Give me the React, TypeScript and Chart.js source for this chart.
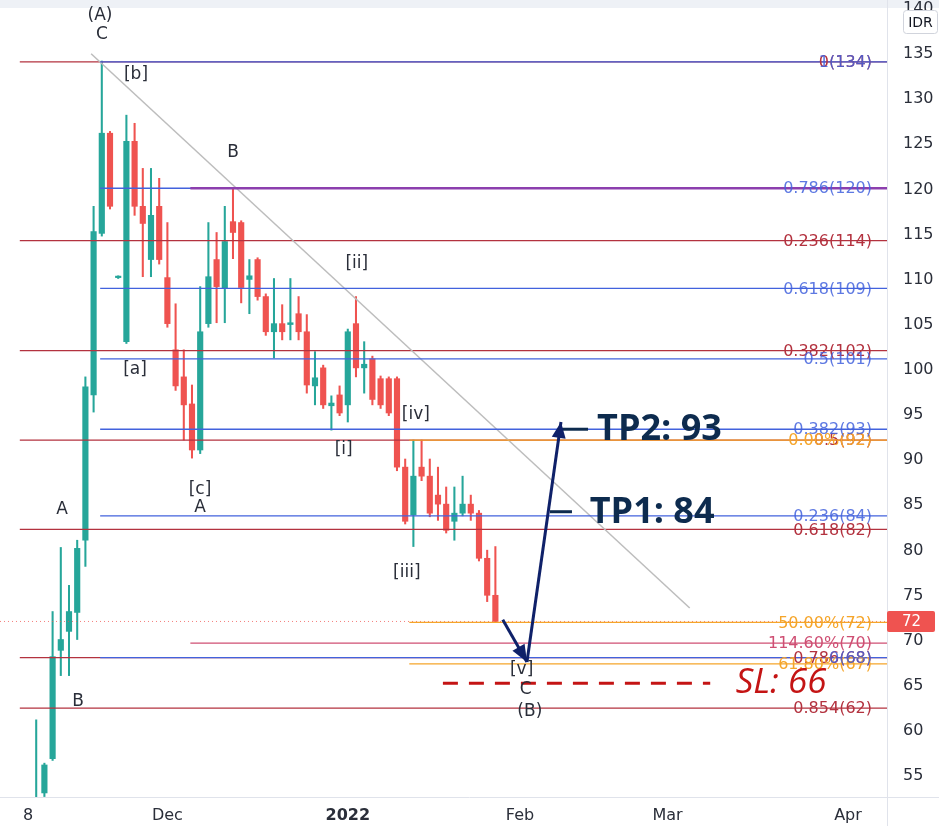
import React, { useEffect, useRef } from "react";
import { Chart, registerables } from "chart.js";

Chart.register(...registerables);

// ---------------- data ----------------
const firstBar = 1; // trading-day index of the first candle (0 = 8 Nov)

const opens = [
  50.5, 52.9, 56.7, 68.7, 70.8, 72.9, 80.9, 97.0, 114.9, 126.0,
  110.0, 102.9, 125.1, 117.9, 112.0, 117.9, 110.0, 102.0, 99.0, 96.0,
  90.9, 104.9, 112.0, 108.8, 116.2, 116.1, 109.8, 112.0, 107.9, 104.0,
  104.9, 104.8, 106.0, 104.0, 98.0, 100.0, 95.8, 97.0, 95.9, 104.9,
  100.0, 101.0, 98.8, 98.8, 98.8, 89.0, 83.7, 89.0, 88.0, 85.9,
  84.9, 83.0, 83.9, 84.9, 83.9, 78.9, 74.8,
];
const highs = [
  61.0, 56.2, 73.0, 80.1, 75.9, 80.9, 99.0, 117.9, 134.0, 126.2,
  110.2, 128.0, 127.1, 122.1, 122.1, 121.0, 116.1, 107.1, 102.0, 98.1,
  109.0, 116.1, 115.0, 117.9, 119.9, 116.3, 112.0, 112.2, 108.2, 109.9,
  107.0, 109.9, 107.9, 105.9, 101.8, 100.3, 96.9, 98.0, 104.3, 107.9,
  102.9, 101.3, 99.1, 99.0, 99.0, 89.9, 92.0, 92.0, 89.9, 89.0,
  86.8, 86.8, 88.0, 85.9, 84.2, 79.8, 80.2,
];
const lows = [
  50.0, 52.5, 56.5, 65.9, 65.9, 69.9, 78.0, 95.1, 114.6, 117.6,
  109.9, 102.7, 116.9, 110.1, 110.1, 111.5, 104.5, 97.5, 92.0, 90.0,
  90.5, 104.5, 105.0, 105.0, 112.1, 107.2, 106.0, 107.5, 103.6, 101.1,
  103.1, 103.1, 103.1, 97.2, 95.9, 95.5, 93.1, 94.7, 94.0, 99.0,
  97.2, 95.9, 95.5, 94.7, 88.6, 82.7, 80.2, 87.5, 83.5, 83.1,
  81.7, 80.9, 83.6, 83.1, 78.6, 74.1, 71.8,
];
const closes = [
  52.0, 56.0, 68.0, 69.9, 73.0, 80.0, 97.9, 115.1, 126.0, 117.9,
  110.1, 125.1, 117.9, 116.0, 116.9, 112.0, 104.9, 98.0, 95.9, 90.9,
  104.0, 110.1, 109.0, 114.0, 115.0, 108.9, 110.2, 107.9, 104.0, 104.9,
  104.0, 105.0, 104.0, 98.1, 98.9, 95.9, 96.1, 95.0, 104.0, 100.0,
  100.4, 96.5, 95.9, 95.0, 89.0, 83.0, 88.0, 88.0, 83.9, 84.9,
  82.0, 83.9, 84.9, 83.9, 78.9, 74.8, 71.9,
];
const lastPrice = 71.9;

// axis ticks
const xTickIndex = [0, 17, 39, 60, 78, 100];
const xTickLabels = ["8", "Dec", "2022", "Feb", "Mar", "Apr"];
const yTicks = [55, 60, 65, 70, 75, 80, 85, 90, 95, 100, 105, 110, 115, 120, 125, 130, 135, 140];

// fibonacci sets
const redFibStart = -1;
const redFibLevels = [133.9, 114.1, 101.9, 92.0, 82.1, 67.9, 62.3];
const redFibLabels = ["0(134)", "0.236(114)", "0.382(102)", "0.5(92)", "0.618(82)", "0.786(68)", "0.854(62)"];

const blueFibStart = 8.8;
const blueFibLevels = [133.9, 119.9, 108.8, 101.0, 93.2, 83.6, 67.9];
const blueFibLabels = ["1(134)", "0.786(120)", "0.618(109)", "0.5(101)", "0.382(93)", "0.236(84)", "0(68)"];

const orangeFibStart = 46.5;
const orangeFibLevels = [92.0, 71.8, 67.2];
const orangeFibLabels = ["0.00%(92)", "50.00%(72)", "61.80%(67)"];

const pinkStart = 19.8;
const pinkLevels = [69.5];
const pinkLabels = ["114.60%(70)"];

const purpleStart = 19.8;
const purpleLevels = [119.9];

// trend line
const trendX = [7.7, 80.7];
const trendY = [134.8, 73.4];

// elliott wave labels
const waveLabels = ["(A)", "C", "[b]", "B", "[ii]", "[a]", "[iv]", "[i]", "[c]", "A", "A", "[iii]", "B", "[v]", "C", "(B)"];
const waveX = [8.78, 9.02, 13.17, 25.0, 40.1, 13.05, 47.3, 38.5, 20.98, 4.15, 20.98, 46.2, 6.1, 60.2, 60.7, 61.2];
const waveY = [139.0, 136.9, 132.5, 123.8, 111.6, 99.8, 94.8, 90.9, 86.5, 84.3, 84.5, 77.3, 63.0, 66.6, 64.3, 61.9];

// trade plan
const arrowDownX = [57.9, 60.85];
const arrowDownY = [72.1, 67.4];
const arrowUpX = [60.85, 65.0];
const arrowUpY = [67.4, 94.0];
const tp2LinkX = [65.0, 68.3];
const tp2LinkY = 93.2;
const tp1LinkX = [63.66, 66.34];
const tp1LinkY = 84.06;
const slLineX = [50.6, 83.2];
const slLineY = 65.05;
const planTexts = ["TP2: 93", "TP1: 84", "SL: 66"];
const planX = [69.4, 68.5, 86.3];
const planY = [93.1, 84.0, 65.1];

// view range
const X_MIN = -3.415;
const X_MAX = 104.76;
const Y_MIN = 52.45;
const Y_MAX = 140.76;

// ---------------- styles ----------------
const GREEN = "#26a69a";
const REDC = "#ef5350";
const FIB_RED = "#b3323f";
const FIB_BLUE = "#4262dd";
const FIB_ORANGE = "#f5a52a";
const FIB_PINK = "#cf4f73";
const FIB_PURPLE = "#8c3fae";
const NAVY = "#0f2169";
const TEXT_NAVY = "#0d2b4e";
const SL_RED = "#c41414";
const AXIS_FONT = '"DejaVu Sans", sans-serif';

export default function App() {
  const ref = useRef<HTMLCanvasElement>(null);

  useEffect(() => {
    const canvas = ref.current;
    if (!canvas) return;

    const candleColors = opens.map((o, k) => (closes[k] >= o ? GREEN : REDC));

    const hline = (y: number, x0: number, color: string, width: number, order = 2, dash: number[] = []) => ({
      type: "line" as const,
      data: [
        { x: x0, y },
        { x: X_MAX, y },
      ],
      borderColor: color,
      borderWidth: width,
      borderDash: dash,
      pointRadius: 0,
      fill: false,
      order,
    });
    const seg = (xs: number[], ys: number[], color: string, width: number, order = 0, dash: number[] = []) => ({
      type: "line" as const,
      data: xs.map((x, k) => ({ x, y: ys[k] })),
      borderColor: color,
      borderWidth: width,
      borderDash: dash,
      pointRadius: 0,
      fill: false,
      order,
    });

    const datasets: any[] = [
      hline(lastPrice, X_MIN, "rgba(239,83,80,0.75)", 1, 3, [1, 3]),
      ...redFibLevels.map((v) => hline(v, redFibStart, FIB_RED, 1.3, 2)),
      ...pinkLevels.map((v) => hline(v, pinkStart, FIB_PINK, 1.3, 2)),
      ...blueFibLevels.map((v) => hline(v, blueFibStart, FIB_BLUE, 1.3, 1)),
      ...purpleLevels.map((v) => hline(v, purpleStart, FIB_PURPLE, 2.5, 0)),
      ...orangeFibLevels.map((v) => hline(v, orangeFibStart, FIB_ORANGE, 1.3, 1)),
      seg(trendX, trendY, "#bdbdbd", 1.5, 1),
      seg(slLineX, [slLineY, slLineY], SL_RED, 3, 0, [15, 11]),
      seg(arrowDownX, arrowDownY, NAVY, 3, 0),
      seg(arrowUpX, arrowUpY, NAVY, 3, 0),
      seg(tp2LinkX, [tp2LinkY, tp2LinkY], TEXT_NAVY, 3, 0),
      seg(tp1LinkX, [tp1LinkY, tp1LinkY], TEXT_NAVY, 3, 0),
      {
        type: "bar",
        data: opens.map((_, k) => ({ x: firstBar + k, y: [lows[k], highs[k]] })),
        backgroundColor: candleColors,
        barThickness: 1.4,
        grouped: false,
        borderWidth: 0,
        order: 6,
      },
      {
        type: "bar",
        data: opens.map((o, k) => ({ x: firstBar + k, y: [o, closes[k]] })),
        backgroundColor: candleColors,
        barThickness: 5.5,
        minBarLength: 1.5,
        grouped: false,
        borderWidth: 0,
        order: 5,
      },
    ];

    const drawHead = (chart: any, xs: number[], ys: number[], color: string, len: number, half: number) => {
      const sx = chart.scales.x;
      const sy = chart.scales.y;
      const x0 = sx.getPixelForValue(xs[0]);
      const y0 = sy.getPixelForValue(ys[0]);
      const x1 = sx.getPixelForValue(xs[1]);
      const y1 = sy.getPixelForValue(ys[1]);
      const a = Math.atan2(y1 - y0, x1 - x0);
      const c = chart.ctx;
      c.save();
      c.fillStyle = color;
      c.beginPath();
      c.moveTo(x1, y1);
      c.lineTo(x1 - len * Math.cos(a) + half * Math.sin(a), y1 - len * Math.sin(a) - half * Math.cos(a));
      c.lineTo(x1 - len * Math.cos(a) - half * Math.sin(a), y1 - len * Math.sin(a) + half * Math.cos(a));
      c.closePath();
      c.fill();
      c.restore();
    };

    const overlay = {
      id: "overlay",
      beforeDraw(chart: any) {
        const c = chart.ctx;
        c.save();
        c.fillStyle = "#ffffff";
        c.fillRect(0, 0, chart.width, chart.height);
        c.fillStyle = "#eef1f6";
        c.fillRect(0, 0, chart.width, 8);
        c.restore();
      },
      afterDatasetsDraw(chart: any) {
        const c = chart.ctx;
        const sx = chart.scales.x;
        const sy = chart.scales.y;
        const area = chart.chartArea;
        c.save();
        // fib labels
        c.font = '16px "DejaVu Sans"';
        c.textAlign = "right";
        c.textBaseline = "middle";
        const lbl = (levels: number[], labels: string[], color: string) => {
          c.fillStyle = color;
          levels.forEach((v, k) => c.fillText(labels[k], area.right - 15, sy.getPixelForValue(v) + 1));
        };
        lbl(redFibLevels, redFibLabels, FIB_RED);
        lbl(pinkLevels, pinkLabels, FIB_PINK);
        lbl(orangeFibLevels, orangeFibLabels, FIB_ORANGE);
        c.globalAlpha = 0.85;
        lbl(blueFibLevels, blueFibLabels, FIB_BLUE);
        c.globalAlpha = 1;

        // wave labels
        c.font = '17px "DejaVu Sans"';
        c.textAlign = "center";
        c.fillStyle = "#2a2e39";
        waveLabels.forEach((t, k) => c.fillText(t, sx.getPixelForValue(waveX[k]), sy.getPixelForValue(waveY[k])));

        // plan texts
        c.textAlign = "left";
        c.font = 'bold 36px "Open Sans"';
        c.fillStyle = TEXT_NAVY;
        c.fillText(planTexts[0], sx.getPixelForValue(planX[0]), sy.getPixelForValue(planY[0]));
        c.fillText(planTexts[1], sx.getPixelForValue(planX[1]), sy.getPixelForValue(planY[1]));
        c.font = 'italic 35px "Open Sans"';
        c.fillStyle = SL_RED;
        c.fillText(planTexts[2], sx.getPixelForValue(planX[2]), sy.getPixelForValue(planY[2]));
        c.restore();

        drawHead(chart, arrowDownX, arrowDownY, NAVY, 17, 7);
        drawHead(chart, arrowUpX, arrowUpY, NAVY, 16, 7);
      },
      afterDraw(chart: any) {
        const c = chart.ctx;
        const sy = chart.scales.y;
        const area = chart.chartArea;
        c.save();
        c.strokeStyle = "#e0e3eb";
        c.lineWidth = 1;
        c.beginPath();
        c.moveTo(area.right + 0.5, 0);
        c.lineTo(area.right + 0.5, chart.height);
        c.moveTo(0, area.bottom + 0.5);
        c.lineTo(chart.width, area.bottom + 0.5);
        c.stroke();

        // last price box
        const py = sy.getPixelForValue(lastPrice);
        c.fillStyle = REDC;
        c.beginPath();
        c.roundRect(area.right, py - 10.5, 48, 21, 2);
        c.fill();
        c.fillStyle = "#ffffff";
        c.font = '15px "DejaVu Sans"';
        c.textAlign = "left";
        c.textBaseline = "middle";
        c.fillText(String(Math.round(lastPrice)), area.right + 15, py + 1);

        // currency box
        c.fillStyle = "#ffffff";
        c.strokeStyle = "#d1d4dc";
        c.beginPath();
        c.roundRect(903.5, 10.5, 34, 23, 3);
        c.fill();
        c.stroke();
        c.fillStyle = "#131722";
        c.font = '14px "DejaVu Sans"';
        c.textAlign = "center";
        c.fillText("IDR", 920.5, 23);
        c.restore();
      },
    };

    const chart = new Chart(canvas, {
      type: "bar",
      data: { datasets },
      options: {
        responsive: false,
        animation: false,
        devicePixelRatio: 1,
        layout: { padding: 0 },
        plugins: { legend: { display: false }, tooltip: { enabled: false } },
        scales: {
          x: {
            type: "linear",
            min: X_MIN,
            max: X_MAX,
            offset: false,
            grid: { display: false, drawTicks: false },
            border: { display: false },
            afterBuildTicks: (s: any) => {
              s.ticks = xTickIndex.map((v) => ({ value: v }));
            },
            afterFit: (s: any) => {
              s.height = 29;
              s.paddingLeft = 0;
              s.paddingRight = 0;
            },
            ticks: {
              autoSkip: false,
              maxRotation: 0,
              padding: 9,
              color: "#2a2e39",
              callback: (v: any) => {
                const k = xTickIndex.indexOf(Number(v));
                return k >= 0 ? xTickLabels[k] : "";
              },
              font: (ctx: any) => {
                const k = ctx.tick ? xTickIndex.indexOf(ctx.tick.value) : -1;
                return {
                  family: AXIS_FONT,
                  size: 16,
                  weight: xTickLabels[k] === "2022" ? "bold" : "normal",
                };
              },
            },
          },
          y: {
            type: "linear",
            position: "right",
            min: Y_MIN,
            max: Y_MAX,
            grid: { display: false, drawTicks: false },
            border: { display: false },
            afterBuildTicks: (s: any) => {
              s.ticks = yTicks.map((v) => ({ value: v }));
            },
            afterFit: (s: any) => {
              s.width = 52;
              s.paddingTop = 0;
              s.paddingBottom = 0;
            },
            ticks: {
              padding: 16,
              labelOffset: 2,
              color: "#2a2e39",
              font: { family: AXIS_FONT, size: 16 },
            },
          },
        },
      } as any,
      plugins: [overlay],
    });

    return () => chart.destroy();
  }, []);

  return (
    <div style={{ position: "absolute", left: 0, top: 0, width: 939, height: 826, background: "#fff" }}>
      <canvas ref={ref} width={939} height={826} style={{ display: "block" }} />
    </div>
  );
}
